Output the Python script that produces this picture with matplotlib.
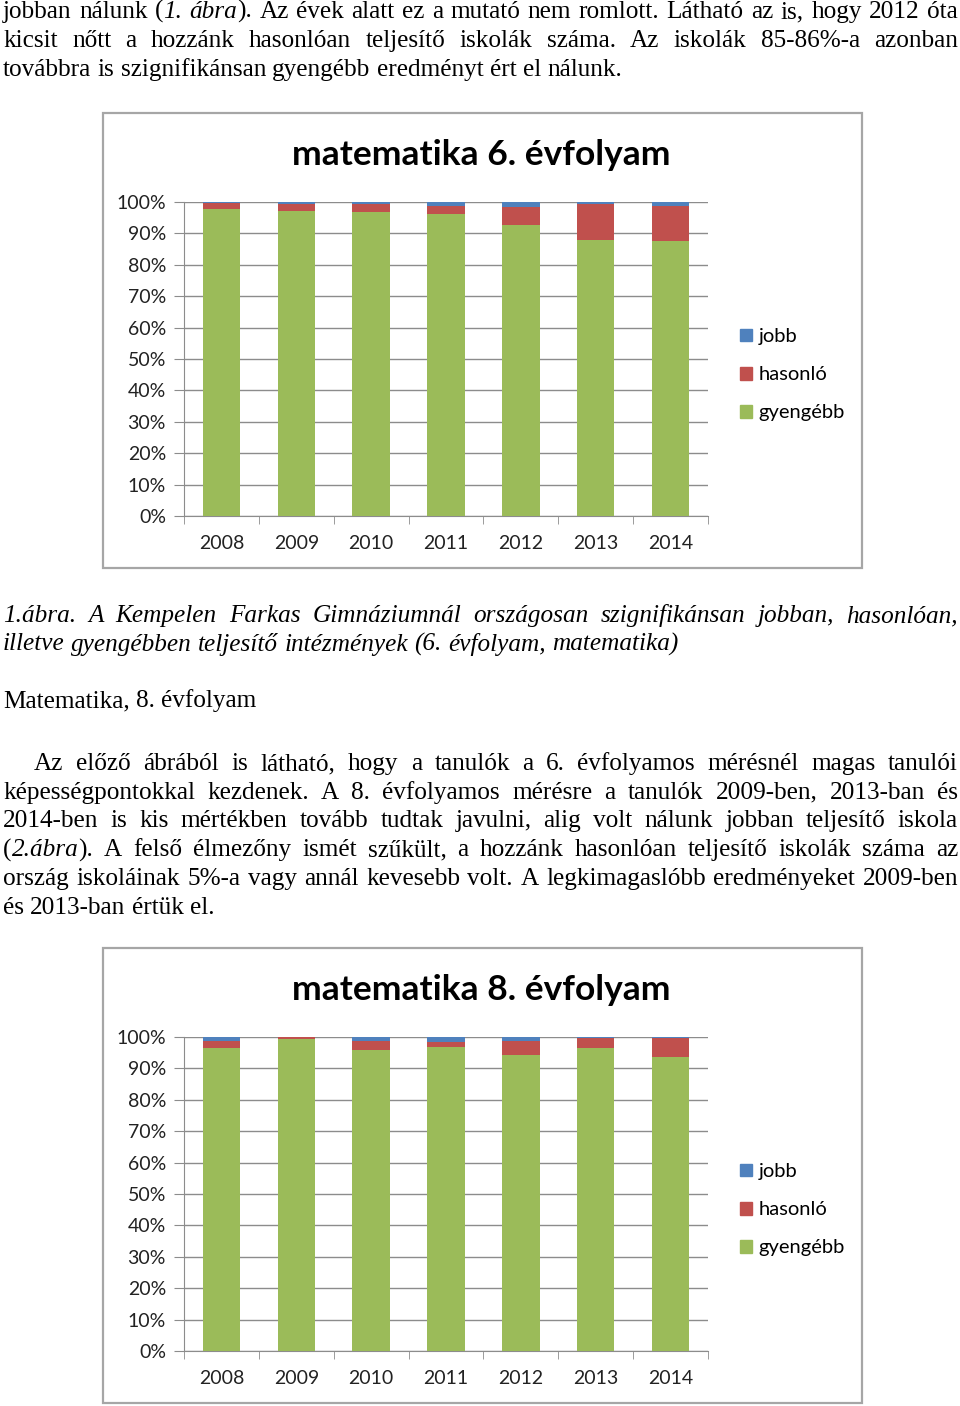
import matplotlib.pyplot as plt
import matplotlib.ticker as mtick
from matplotlib.patches import Rectangle, Patch
import numpy as np

# ---- data ----
years = ["2008", "2009", "2010", "2011", "2012", "2013", "2014"]
series_names = ["jobb", "hasonló", "gyengébb"]

# matematika 6. évfolyam (share of schools)
m6_gyengebb = [97.7, 97.2, 96.8, 96.3, 92.8, 87.9, 87.6]
m6_hasonlo = [2.0, 2.2, 2.5, 2.5, 5.6, 11.4, 11.1]
m6_jobb = [0.3, 0.6, 0.7, 1.2, 1.6, 0.7, 1.3]

# matematika 8. évfolyam
m8_gyengebb = [96.6, 99.3, 96.0, 96.9, 94.3, 96.6, 93.7]
m8_hasonlo = [2.1, 0.6, 2.7, 1.6, 4.3, 3.1, 5.9]
m8_jobb = [1.3, 0.1, 1.3, 1.5, 1.4, 0.3, 0.4]

colors = {"jobb": "#4F81BD", "hasonló": "#C0504D", "gyengébb": "#9BBB59"}

# page text, *...* marks italic
top_lines = [
    "jobban nálunk (*1. ábra*). Az évek alatt ez a mutató nem romlott. Látható az is, hogy 2012 óta",
    "kicsit nőtt a hozzánk hasonlóan teljesítő iskolák száma. Az iskolák 85-86%-a azonban",
    "továbbra is szignifikánsan gyengébb eredményt ért el nálunk.",
]
caption_lines = [
    "*1.ábra. A Kempelen Farkas Gimnáziumnál országosan szignifikánsan jobban, hasonlóan,*",
    "*illetve gyengébben teljesítő intézmények (6. évfolyam, matematika)*",
]
heading = "Matematika, 8. évfolyam"
para_lines = [
    "Az előző ábrából is látható, hogy a tanulók a 6. évfolyamos mérésnél magas tanulói",
    "képességpontokkal kezdenek. A 8. évfolyamos mérésre a tanulók 2009-ben, 2013-ban és",
    "2014-ben is kis mértékben tovább tudtak javulni, alig volt nálunk jobban teljesítő iskola",
    "(*2.ábra*). A felső élmezőny ismét szűkült, a hozzánk hasonlóan teljesítő iskolák száma az",
    "ország iskoláinak 5%-a vagy annál kevesebb volt. A legkimagaslóbb eredményeket 2009-ben",
    "és 2013-ban értük el.",
]

W, H = 960, 1406
fig = plt.figure(figsize=(W / 100, H / 100), dpi=100)
renderer = fig.canvas.get_renderer()

SERIF = "Liberation Serif"
TSIZE = 18.2


def fx(x):
    return x / W


def fy(y):
    return 1 - y / H


def parse_words(line):
    words = []
    cur = []
    buf = ""
    ital = False
    for ch in line:
        if ch == "*":
            if buf:
                cur.append((buf, ital))
                buf = ""
            ital = not ital
        elif ch == " ":
            if buf:
                cur.append((buf, ital))
                buf = ""
            if cur:
                words.append(cur)
                cur = []
        else:
            buf += ch
    if buf:
        cur.append((buf, ital))
    if cur:
        words.append(cur)
    return words


def draw_line(line, y_base, x0=3, x1=958, justify=True):
    words = parse_words(line)
    objs = []
    widths = []
    for w in words:
        runs = []
        total = 0
        for txt, it in w:
            t = fig.text(0, fy(y_base), txt, family=SERIF, size=TSIZE,
                         style="italic" if it else "normal", va="baseline")
            wd = t.get_window_extent(renderer).width
            runs.append((t, wd))
            total += wd
        objs.append(runs)
        widths.append(total)
    space = 0.25 * TSIZE * 100 / 72
    if justify and len(words) > 1:
        gap = (x1 - x0 - sum(widths)) / (len(words) - 1)
    else:
        gap = space
    x = x0
    for runs, wd in zip(objs, widths):
        xx = x
        for t, rw in runs:
            t.set_x(fx(xx))
            xx += rw
        x += wd + gap


for i, ln in enumerate(top_lines):
    draw_line(ln, 18 + 29 * i, justify=i < len(top_lines) - 1)

for i, ln in enumerate(caption_lines):
    draw_line(ln, 622 + 28.5 * i, justify=i < len(caption_lines) - 1)

draw_line(heading, 707, justify=False)

for i, ln in enumerate(para_lines):
    draw_line(ln, 770 + 28.7 * i, x0=34 if i == 0 else 3,
              justify=i < len(para_lines) - 1)


def draw_chart(top, title, gyengebb, hasonlo, jobb):
    # frame around the chart
    fig.patches.append(Rectangle((fx(103), fy(top + 455)), 759 / W, 455 / H,
                                 transform=fig.transFigure, fill=False,
                                 edgecolor="#a6a6a6", lw=1.6))
    fig.text(fx(481), fy(top + 42), title, ha="center", va="center",
             family="Lato", fontweight="bold", size=25.5)

    ax = fig.add_axes([fx(184), fy(top + 403), 524 / W, 314 / H])
    x = np.arange(len(years))
    g = np.array(gyengebb) / 100
    h = np.array(hasonlo) / 100
    j = np.array(jobb) / 100
    ax.bar(x, g, 0.5, color=colors["gyengébb"], zorder=3)
    ax.bar(x, h, 0.5, bottom=g, color=colors["hasonló"], zorder=3)
    ax.bar(x, j, 0.5, bottom=g + h, color=colors["jobb"], zorder=3)

    ax.set_xlim(-0.5, len(years) - 0.5)
    ax.set_ylim(0, 1)
    ax.set_yticks(np.arange(0, 1.01, 0.1))
    ax.yaxis.set_major_formatter(mtick.PercentFormatter(1.0, decimals=0))
    ax.set_xticks(x)
    ax.set_xticklabels(years)
    ax.set_xticks(np.arange(-0.5, len(years)), minor=True)
    ax.tick_params(axis="x", which="major", length=0, pad=14)
    ax.tick_params(axis="x", which="minor", length=6, color="#8c8c8c", direction="out")
    ax.tick_params(axis="y", length=7, color="#8c8c8c", pad=6)
    for lab in ax.get_xticklabels() + ax.get_yticklabels():
        lab.set_family("Lato")
        lab.set_fontsize(14)
        lab.set_color("#222222")
    ax.grid(axis="y", color="#8c8c8c", lw=1.0, zorder=0)
    for s in ["top", "right"]:
        ax.spines[s].set_visible(False)
    ax.spines["left"].set_color("#8c8c8c")
    ax.spines["bottom"].set_color("#8c8c8c")

    handles = [Patch(color=colors[n]) for n in series_names]
    fig.legend(handles, series_names, loc="upper left",
               bbox_to_anchor=(fx(722), fy(top + 197)),
               bbox_transform=fig.transFigure, frameon=False,
               prop={"family": "Lato", "size": 14.5},
               handlelength=0.6, handleheight=0.6, handletextpad=0.3,
               labelspacing=1.05)


draw_chart(113, "matematika 6. évfolyam", m6_gyengebb, m6_hasonlo, m6_jobb)
draw_chart(948, "matematika 8. évfolyam", m8_gyengebb, m8_hasonlo, m8_jobb)

fig.savefig("out.png", dpi=100)
